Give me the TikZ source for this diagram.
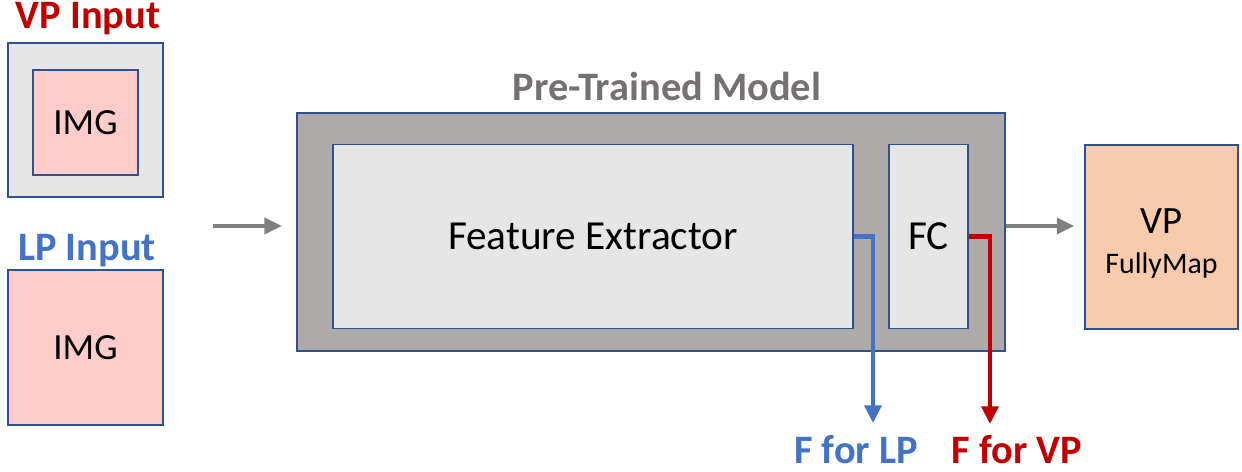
\documentclass[tikz,border=0pt]{standalone}
\usepackage{fontspec}
\setmainfont{Carlito}
\usetikzlibrary{arrows.meta}
\definecolor{vpred}{HTML}{C00000}
\definecolor{lpblue}{HTML}{4472C4}
\definecolor{titlegray}{HTML}{767171}
\definecolor{arrowgray}{HTML}{808080}
\definecolor{boxline}{HTML}{2F528F}
\definecolor{lightfill}{HTML}{E7E6E6}
\definecolor{modelfill}{HTML}{AEAAAA}
\definecolor{imgpink}{HTML}{FFCCCC}
\definecolor{mapfill}{HTML}{F8CBAD}
\tikzset{
	box/.style={draw=boxline, line width=0.8pt, inner sep=0pt, align=center},
	imgtext/.style={font=\fontsize{21}{25}\selectfont},
	bigtext/.style={font=\fontsize{23.5}{28}\selectfont},
	titletext/.style={font=\bfseries\fontsize{23}{27}\selectfont, anchor=base},
	garrow/.style={draw=arrowgray, line width=2.3pt, -{Triangle[length=10pt,width=9pt]}},
	featarrow/.style={line width=2.3pt, -{Triangle[length=10pt,width=9.5pt]}},
}

\begin{document}
\begin{tikzpicture}[x=0.02cm, y=-0.02cm]
		%%%%% START %%%%%
		\useasboundingbox (0, 0) rectangle (1242, 471);
		
		% inputs
		\node[titletext, text=vpred] (vptitle) at (88, 28) {VP Input};
		\node[box, fill=lightfill, minimum width=3.1cm, minimum height=3.08cm] (vpframe) at (85.5, 120) {};
		\node[box, imgtext, fill=imgpink, minimum width=2.1cm, minimum height=2.1cm] (vpimg) at (85.5, 122.5) {IMG};
		
		\node[titletext, text=lpblue] (lptitle) at (87, 260) {LP Input};
		\node[box, imgtext, fill=imgpink, minimum width=3.1cm, minimum height=3.1cm] (lpimg) at (85.5, 347.5) {IMG};
		
		% model
		\node[titletext, text=titlegray] (modeltitle) at (667, 100) {Pre-Trained Model};
		\node[box, fill=modelfill, minimum width=14.16cm, minimum height=4.76cm] (model) at (651, 232) {};
		\node[box, bigtext, fill=lightfill, minimum width=10.4cm, minimum height=3.68cm] (fe) at (593, 236.5) {Feature Extractor};
		\node[box, bigtext, fill=lightfill, minimum width=1.58cm, minimum height=3.68cm] (fc) at (928.5, 236.5) {FC};
		
		% output
		\node[box, fill=mapfill, minimum width=3.06cm, minimum height=3.68cm] (vpmap) at (1161.5, 237) {};
		\node[anchor=base] (vplabel) at (1161.5, 233) {\fontsize{22}{26}\selectfont VP};
		\node[anchor=base] (maplabel) at (1161.5, 273) {\fontsize{17}{20}\selectfont FullyMap};
		
		% arrows
		\coordinate (instart) at (213, 226);
		\coordinate (inend) at (282, 226);
		\draw[garrow] (instart) -- (inend);
		\draw[garrow, shorten >=0.2cm] (model.east |- instart) -- (vpmap.west |- instart);
		
		\coordinate (lptip) at (873, 423);
		\coordinate (vptip) at (990, 424);
		\draw[featarrow, draw=lpblue] (fe.east) -| (lptip);
		\draw[featarrow, draw=vpred] (fc.east) -| (vptip);
		
		\node[titletext, text=lpblue] (lpout) at (856, 463) {F for LP};
		\node[titletext, text=vpred] (vpout) at (1017, 463) {F for VP};
		%%%%% END %%%%%
	\end{tikzpicture}
\end{document}
